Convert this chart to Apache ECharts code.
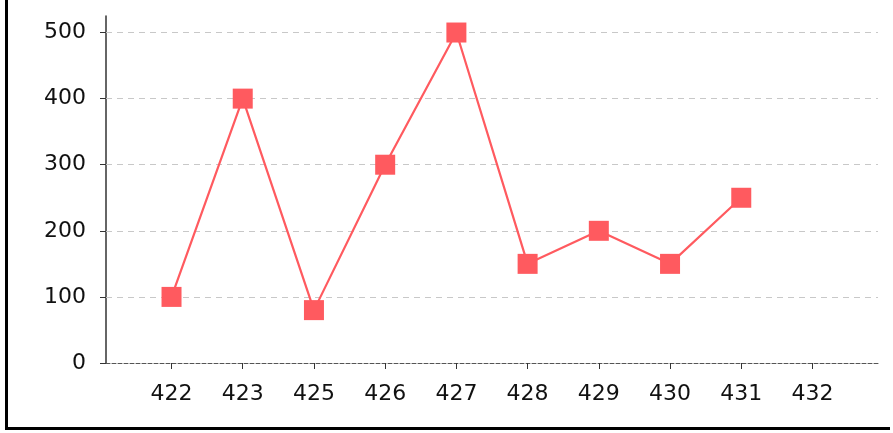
<!DOCTYPE html>
<html>
<head>
<meta charset="utf-8">
<script src="https://cdn.jsdelivr.net/npm/echarts@6/dist/echarts.min.js"></script>
<style>
html,body{margin:0;padding:0;background:#fff;}
#chart{position:absolute;left:0;top:0;width:893px;height:433px;}
#frame{position:absolute;left:5px;top:-3px;width:885px;height:433px;border-left:3px solid #000;border-bottom:3px solid #000;box-sizing:border-box;pointer-events:none;}
</style>
</head>
<body>
<div id="chart"></div>
<div id="frame"></div>
<script>
var categories = ['422','423','425','426','427','428','429','430','431','432'];
var values = [100, 400, 80, 300, 500, 150, 200, 150, 250, null];
var yTicks = [0, 100, 200, 300, 400, 500];

var xIdx = categories.map(function(c, i){ return i; });
var seriesData = values.map(function(v, i){ return [i, v]; });

var chart = echarts.init(document.getElementById('chart'));
chart.setOption({
  animation: false,
  grid: {left: 106, right: 15, top: 16, bottom: 70, containLabel: false},
  xAxis: {
    type: 'value',
    min: -0.92,
    max: 9.92,
    axisLine: {show: true, onZero: false, lineStyle: {color: '#555', width: 1, type: [4, 2]}},
    axisTick: {show: true, length: 6, customValues: xIdx, lineStyle: {color: '#333'}},
    axisLabel: {
      customValues: xIdx,
      margin: 20,
      fontFamily: 'DejaVu Sans', fontSize: 22, color: '#111',
      formatter: function(v){ return categories[Math.round(v)]; }
    },
    splitLine: {show: false}
  },
  yAxis: {
    type: 'value',
    min: 0,
    max: 525,
    axisLine: {show: true, onZero: false, lineStyle: {color: '#333', width: 1.5}},
    axisTick: {show: true, length: 6, customValues: yTicks, lineStyle: {color: '#333'}},
    axisLabel: {
      customValues: yTicks,
      margin: 20,
      fontFamily: 'DejaVu Sans', fontSize: 22, color: '#111'
    },
    splitLine: {show: false}
  },
  series: [{
    type: 'line',
    data: seriesData,
    symbol: 'rect',
    symbolSize: 20,
    connectNulls: false,
    lineStyle: {color: '#ff5a5f', width: 2.2},
    itemStyle: {color: '#ff5a5f'},
    z: 3,
    markLine: {
      silent: true,
      symbol: 'none',
      label: {show: false},
      lineStyle: {color: '#c8c8c8', type: [6, 5], width: 1},
      data: yTicks.filter(function(t){ return t > 0; }).map(function(t){ return {yAxis: t}; }),
      z: 1
    }
  }]
});
</script>
</body>
</html>
